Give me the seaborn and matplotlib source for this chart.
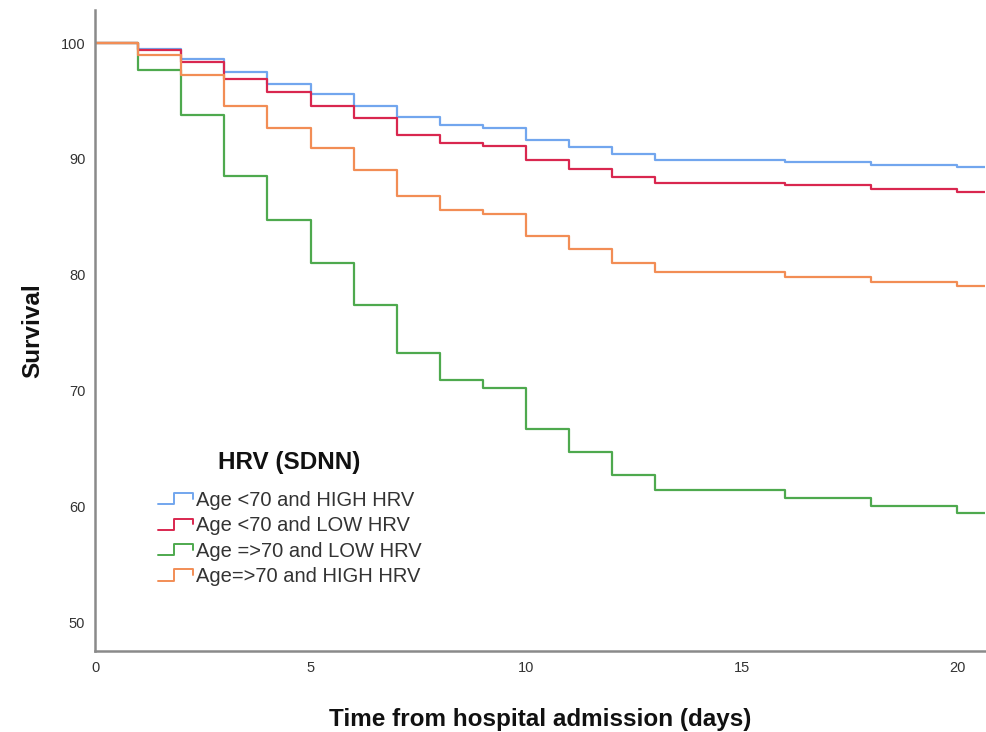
import numpy as np
import pandas as pd
import matplotlib
matplotlib.use("Agg")
import matplotlib.pyplot as plt
import seaborn as sns
from matplotlib.legend_handler import HandlerBase
from matplotlib.lines import Line2D

# ---- data ----
days = [0, 1, 2, 3, 4, 5, 6, 7, 8, 9, 10, 11, 12, 13, 16, 18, 20, 20.65]
groups = ["Age <70 and HIGH HRV", "Age <70 and LOW HRV",
          "Age =>70 and LOW HRV", "Age=>70 and HIGH HRV"]
surv_young_high = [100, 99.5, 98.6, 97.5, 96.5, 95.6, 94.6, 93.6, 92.9, 92.7,
                   91.6, 91.0, 90.4, 89.9, 89.7, 89.5, 89.3, 89.3]
surv_young_low = [100, 99.4, 98.4, 96.9, 95.8, 94.6, 93.5, 92.1, 91.4, 91.1,
                  89.9, 89.1, 88.4, 87.9, 87.7, 87.4, 87.1, 87.1]
surv_old_low = [100, 97.7, 93.8, 88.5, 84.7, 81.0, 77.4, 73.2, 70.9, 70.2,
                66.7, 64.7, 62.7, 61.4, 60.7, 60.0, 59.4, 59.4]
surv_old_high = [100, 99.0, 97.2, 94.6, 92.7, 90.9, 89.0, 86.8, 85.6, 85.2,
                 83.3, 82.2, 81.0, 80.2, 79.8, 79.4, 79.0, 79.0]
series = [surv_young_high, surv_young_low, surv_old_low, surv_old_high]
colors = ["#72a6ee", "#d9274f", "#4ea94e", "#f28d55"]
xticks = [0, 5, 10, 15, 20]
yticks = [50, 60, 70, 80, 90, 100]

df = pd.concat([pd.DataFrame({"day": days, "survival": s, "group": g})
                for g, s in zip(groups, series)], ignore_index=True)

sns.set_theme(style="white")
plt.rcParams["font.family"] = ["Liberation Sans", "DejaVu Sans"]

fig = plt.figure(figsize=(9.87, 7.32), dpi=100)
ax = fig.add_axes([0.0963, 0.1107, 0.9017, 0.8756])

sns.lineplot(data=df, x="day", y="survival", hue="group", hue_order=groups,
             palette=colors, drawstyle="steps-post", linewidth=1.6,
             estimator=None, ax=ax, legend=False)

ax.set_xlim(0, 20.65)
ax.set_ylim(47.5, 102.85)
ax.set_xticks(xticks)
ax.set_yticks(yticks)
ax.tick_params(axis="both", length=0, labelsize=10.5, colors="#333333", pad=7)
for s in ["top", "right"]:
    ax.spines[s].set_visible(False)
for s in ["left", "bottom"]:
    ax.spines[s].set_color("#8a8a8a")
    ax.spines[s].set_linewidth(1.8)
ax.grid(False)

ax.set_xlabel("Time from hospital admission (days)", fontsize=17.5,
              fontweight="bold", labelpad=24, color="#111111")
ax.set_ylabel("Survival", fontsize=17.5, fontweight="bold", labelpad=12,
              color="#111111")


class StepHandler(HandlerBase):
    def create_artists(self, legend, orig_handle, xdescent, ydescent,
                       width, height, fontsize, trans):
        x0, x1 = -xdescent, -xdescent + width
        y0, y1 = -ydescent + height * 0.1, -ydescent + height * 0.9
        xm = x0 + width * 0.45
        xs = [x0, xm, xm, x1, x1]
        ys = [y0, y0, y1, y1, y1 - height * 0.4]
        line = Line2D(xs, ys, color=orig_handle.get_color(),
                      linewidth=1.4, transform=trans)
        return [line]


handles = [Line2D([], [], color=c) for c in colors]
leg = ax.legend(handles, groups, title="HRV (SDNN)",
                handler_map={Line2D: StepHandler()},
                loc="upper left", bbox_to_anchor=(0.05, 0.34),
                frameon=False, fontsize=14.5, handlelength=1.75,
                handletextpad=0.15, labelspacing=0.32,
                title_fontproperties={"weight": "bold", "size": 17.5})
for t in leg.get_texts():
    t.set_color("#333333")
leg.get_title().set_color("#111111")
leg._legend_box.align = "center"
leg._legend_box.sep = 12

fig.savefig("out.png", dpi=100)
